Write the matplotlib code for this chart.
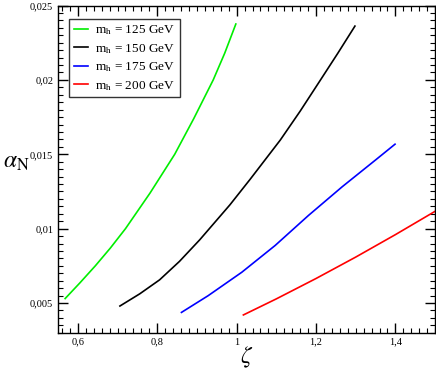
import matplotlib
matplotlib.use('Agg')
import matplotlib.pyplot as plt
from matplotlib.ticker import MultipleLocator, FuncFormatter

plt.rcParams['font.family'] = ['Liberation Serif', 'DejaVu Serif']
plt.rcParams['mathtext.fontset'] = 'stix'

# curves
zeta_125 = [0.568, 0.605, 0.644, 0.682, 0.720, 0.782, 0.844, 0.892, 0.941, 0.970, 0.998]
alpha_125 = [0.00530, 0.00635, 0.00750, 0.00870, 0.01000, 0.01240, 0.01500,
             0.01740, 0.02000, 0.02180, 0.02376]

zeta_150 = [0.706, 0.756, 0.806, 0.856, 0.907, 0.983, 1.034, 1.110, 1.160, 1.211, 1.255, 1.298]
alpha_150 = [0.00480, 0.00562, 0.00656, 0.00780, 0.00925, 0.01160, 0.01332, 0.01596,
             0.01790, 0.01999, 0.02180, 0.02362]

zeta_175 = [0.861, 0.928, 1.013, 1.097, 1.181, 1.266, 1.350, 1.399]
alpha_175 = [0.00437, 0.00549, 0.00707, 0.00887, 0.01089, 0.01282, 0.01462, 0.01568]

zeta_200 = [1.017, 1.100, 1.200, 1.300, 1.400, 1.502]
alpha_200 = [0.00420, 0.00528, 0.00665, 0.00809, 0.00960, 0.01120]

masses = ['125', '150', '175', '200']
colors = ['#00ee00', 'black', 'blue', 'red']

fig = plt.figure(figsize=(4.36, 3.71), dpi=100)
ax = fig.add_axes([0.133, 0.103, 0.865, 0.882])

for zz, aa, m, c in zip([zeta_125, zeta_150, zeta_175, zeta_200],
                        [alpha_125, alpha_150, alpha_175, alpha_200],
                        masses, colors):
    ax.plot(zz, aa, color=c, lw=1.2, label=r'm$_\mathrm{h}$ = ' + m + ' GeV')

ax.set_xlim(0.55, 1.5)
ax.set_ylim(0.003, 0.025)
ax.xaxis.set_major_locator(MultipleLocator(0.2))
ax.xaxis.set_minor_locator(MultipleLocator(0.02))
ax.yaxis.set_major_locator(MultipleLocator(0.005))
ax.yaxis.set_minor_locator(MultipleLocator(0.0005))

def comma(v, pos):
    s = ('%.3f' % v).rstrip('0').rstrip('.')
    return s.replace('.', ',')

ax.xaxis.set_major_formatter(FuncFormatter(comma))
ax.yaxis.set_major_formatter(FuncFormatter(comma))
ax.tick_params(which='both', direction='in', top=True, right=True, labelsize=7.5)
ax.tick_params(which='major', length=7, width=1)
ax.tick_params(which='minor', length=3.5, width=0.8)
for sp in ax.spines.values():
    sp.set_linewidth(1)

ax.set_xlabel(r'$\zeta$', fontsize=17, va='center')
ax.xaxis.set_label_coords(0.5, -0.075)
ax.set_ylabel(r'$\alpha_\mathrm{N}$', fontsize=17, rotation=0, ha='center', va='center')
ax.yaxis.set_label_coords(-0.11, 0.52)

leg = ax.legend(loc='upper left', bbox_to_anchor=(0.03, 0.959), fontsize=9.5,
                frameon=True, fancybox=False, handlelength=1.1,
                borderpad=0.35, labelspacing=0.35, handletextpad=0.5,
                borderaxespad=0.0)
leg.get_frame().set_edgecolor('black')
leg.get_frame().set_linewidth(1)

fig.savefig('out.png', dpi=100)
